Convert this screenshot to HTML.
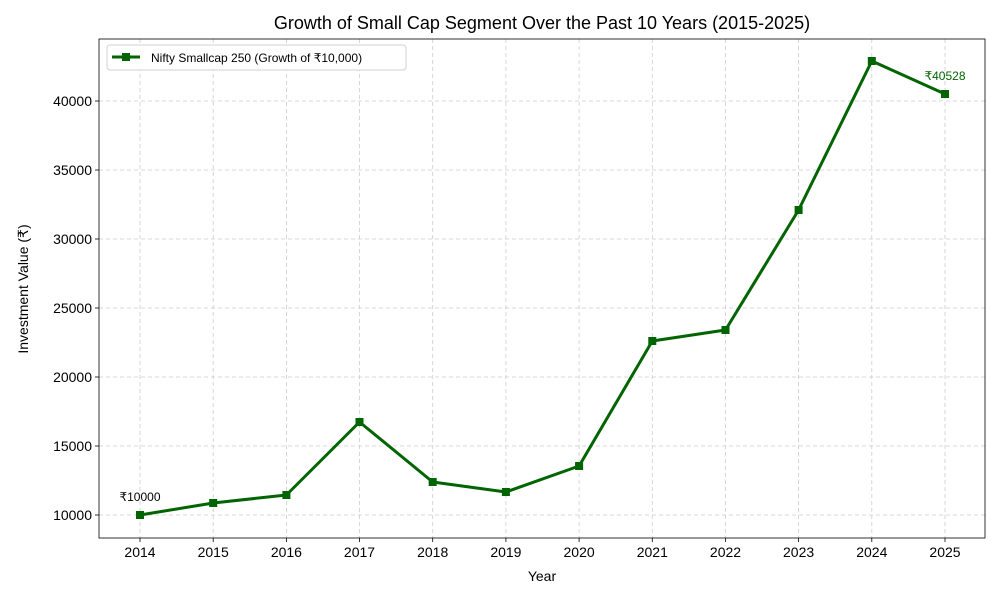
<!DOCTYPE html>
<html><head><meta charset="utf-8"><style>body{margin:0;background:#fff}svg{display:block;font-family:"Liberation Sans","DejaVu Sans",sans-serif}</style></head><body>
<svg width="1000" height="600" viewBox="0 0 1000 600">
<rect width="1000" height="600" fill="#fff"/>
<text x="542" y="29" font-size="18" text-anchor="middle" fill="#000">Growth of Small Cap Segment Over the Past 10 Years (2015-2025)</text>
<g stroke="#cccccc" stroke-dasharray="4,3" stroke-width="0.8">
<line x1="140" y1="39" x2="140" y2="538"/><line x1="213.2" y1="39" x2="213.2" y2="538"/><line x1="286.4" y1="39" x2="286.4" y2="538"/><line x1="359.5" y1="39" x2="359.5" y2="538"/><line x1="432.7" y1="39" x2="432.7" y2="538"/><line x1="505.9" y1="39" x2="505.9" y2="538"/><line x1="579.1" y1="39" x2="579.1" y2="538"/><line x1="652.3" y1="39" x2="652.3" y2="538"/><line x1="725.5" y1="39" x2="725.5" y2="538"/><line x1="798.6" y1="39" x2="798.6" y2="538"/><line x1="871.8" y1="39" x2="871.8" y2="538"/><line x1="945" y1="39" x2="945" y2="538"/>
<line x1="99" y1="515" x2="985" y2="515"/><line x1="99" y1="446" x2="985" y2="446"/><line x1="99" y1="377" x2="985" y2="377"/><line x1="99" y1="308" x2="985" y2="308"/><line x1="99" y1="239" x2="985" y2="239"/><line x1="99" y1="170" x2="985" y2="170"/><line x1="99" y1="101" x2="985" y2="101"/>
</g>
<rect x="99" y="39" width="886" height="499" fill="none" stroke="#000" stroke-width="0.8"/>
<g stroke="#000" stroke-width="0.8">
<line x1="140" y1="538" x2="140" y2="542"/><line x1="213.2" y1="538" x2="213.2" y2="542"/><line x1="286.4" y1="538" x2="286.4" y2="542"/><line x1="359.5" y1="538" x2="359.5" y2="542"/><line x1="432.7" y1="538" x2="432.7" y2="542"/><line x1="505.9" y1="538" x2="505.9" y2="542"/><line x1="579.1" y1="538" x2="579.1" y2="542"/><line x1="652.3" y1="538" x2="652.3" y2="542"/><line x1="725.5" y1="538" x2="725.5" y2="542"/><line x1="798.6" y1="538" x2="798.6" y2="542"/><line x1="871.8" y1="538" x2="871.8" y2="542"/><line x1="945" y1="538" x2="945" y2="542"/>
<line x1="95" y1="515" x2="99" y2="515"/><line x1="95" y1="446" x2="99" y2="446"/><line x1="95" y1="377" x2="99" y2="377"/><line x1="95" y1="308" x2="99" y2="308"/><line x1="95" y1="239" x2="99" y2="239"/><line x1="95" y1="170" x2="99" y2="170"/><line x1="95" y1="101" x2="99" y2="101"/>
</g>
<g font-size="14" fill="#000" text-anchor="middle">
<text x="140" y="557">2014</text><text x="213.2" y="557">2015</text><text x="286.4" y="557">2016</text><text x="359.5" y="557">2017</text><text x="432.7" y="557">2018</text><text x="505.9" y="557">2019</text><text x="579.1" y="557">2020</text><text x="652.3" y="557">2021</text><text x="725.5" y="557">2022</text><text x="798.6" y="557">2023</text><text x="871.8" y="557">2024</text><text x="945" y="557">2025</text>
</g>
<g font-size="14" fill="#000" text-anchor="end">
<text x="92" y="520">10000</text><text x="92" y="451">15000</text><text x="92" y="382">20000</text><text x="92" y="313">25000</text><text x="92" y="244">30000</text><text x="92" y="175">35000</text><text x="92" y="106">40000</text>
</g>
<text x="542" y="581" font-size="14" text-anchor="middle">Year</text>
<text transform="translate(28,289) rotate(-90)" font-size="14" text-anchor="middle">Investment Value (₹)</text>
<polyline fill="none" stroke="#006400" stroke-width="3" stroke-linejoin="round" points="140,515 213.2,503 286.4,495 359.5,422 432.7,482 505.9,492 579.1,466 652.3,341 725.5,330 798.6,210 871.8,61 945,94"/>
<g fill="#006400">
<rect x="136" y="511" width="8" height="8"/><rect x="209.2" y="499" width="8" height="8"/><rect x="282.4" y="491" width="8" height="8"/><rect x="355.5" y="418" width="8" height="8"/><rect x="428.7" y="478" width="8" height="8"/><rect x="501.9" y="488" width="8" height="8"/><rect x="575.1" y="462" width="8" height="8"/><rect x="648.3" y="337" width="8" height="8"/><rect x="721.5" y="326" width="8" height="8"/><rect x="794.6" y="206" width="8" height="8"/><rect x="867.8" y="57" width="8" height="8"/><rect x="941" y="90" width="8" height="8"/>
</g>
<text x="140" y="501" font-size="12" text-anchor="middle">₹10000</text>
<text x="945" y="80" font-size="12" text-anchor="middle" fill="#006400">₹40528</text>
<rect x="107" y="45" width="299" height="25" rx="3" fill="#fff" stroke="#d0d0d0"/>
<line x1="112" y1="57" x2="140" y2="57" stroke="#006400" stroke-width="3"/>
<rect x="122" y="53" width="8" height="8" fill="#006400"/>
<text x="151" y="62" font-size="12">Nifty Smallcap 250 (Growth of ₹10,000)</text>
</svg>
</body></html>
